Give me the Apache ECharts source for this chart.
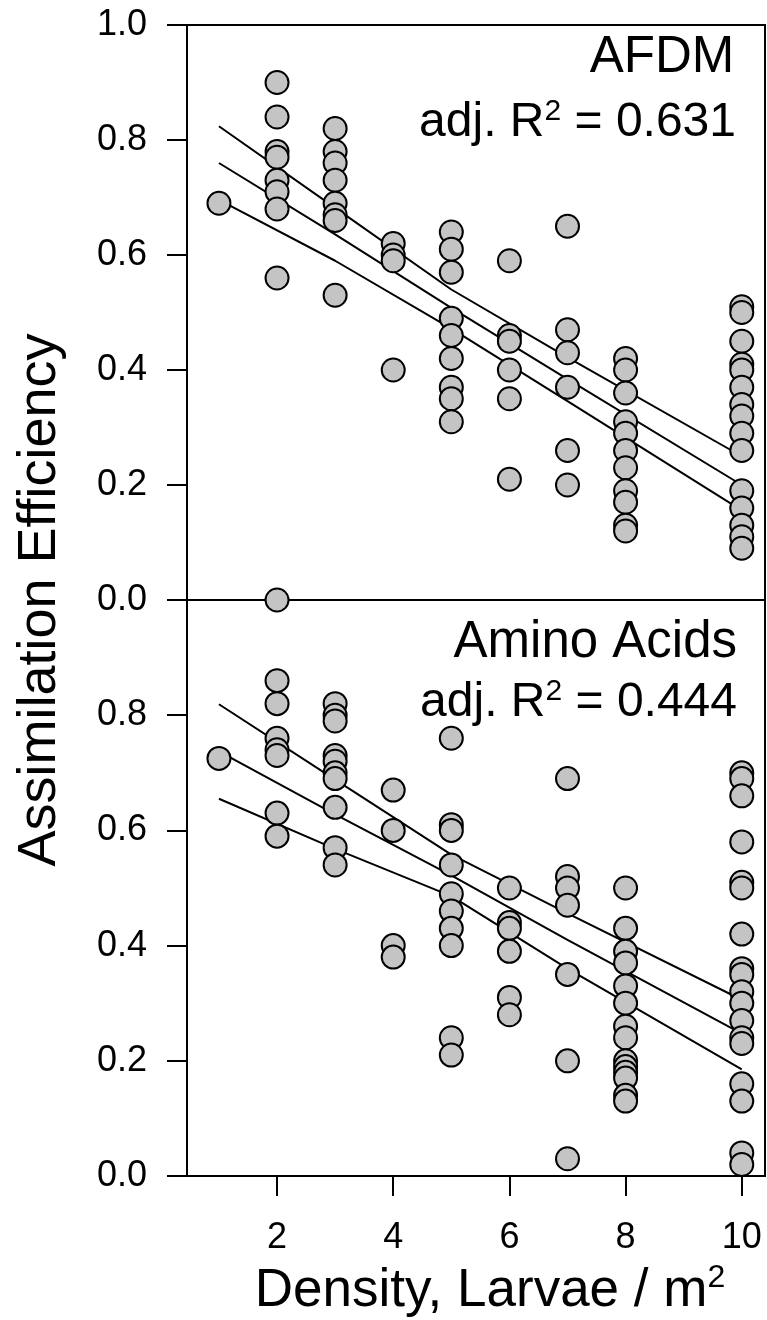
<!DOCTYPE html>
<html>
<head>
<meta charset="utf-8">
<script src="https://cdn.jsdelivr.net/npm/echarts@6/dist/echarts.min.js"></script>
<style>
html,body{margin:0;padding:0;background:#fff;}
#chart{width:767px;height:1320px;}
</style>
</head>
<body>
<div id="chart"></div>
<script>
// ---- data ----
const densities = [1, 2, 3, 4, 5, 6, 7, 8, 10];

const afdmValues = [
  [0.69],
  [0.90, 0.84, 0.78, 0.77, 0.73, 0.71, 0.68, 0.56],
  [0.82, 0.78, 0.76, 0.73, 0.69, 0.67, 0.66, 0.53],
  [0.62, 0.60, 0.59, 0.40],
  [0.64, 0.61, 0.57, 0.49, 0.46, 0.42, 0.37, 0.35, 0.31],
  [0.59, 0.46, 0.45, 0.40, 0.35, 0.21],
  [0.65, 0.47, 0.43, 0.37, 0.26, 0.20],
  [0.42, 0.40, 0.36, 0.31, 0.29, 0.26, 0.23, 0.19, 0.17, 0.13, 0.12],
  [0.51, 0.50, 0.45, 0.41, 0.40, 0.37, 0.34, 0.32, 0.29, 0.26, 0.19, 0.16, 0.13, 0.11, 0.09]
];

const aminoValues = [
  [0.725],
  [1.00, 0.86, 0.82, 0.76, 0.74, 0.73, 0.63, 0.59],
  [0.82, 0.80, 0.79, 0.73, 0.72, 0.70, 0.69, 0.64, 0.57, 0.54],
  [0.67, 0.60, 0.40, 0.38],
  [0.76, 0.61, 0.60, 0.54, 0.49, 0.46, 0.43, 0.40, 0.24, 0.21],
  [0.50, 0.44, 0.43, 0.39, 0.31, 0.28],
  [0.69, 0.52, 0.50, 0.47, 0.35, 0.20, 0.03],
  [0.50, 0.43, 0.39, 0.37, 0.33, 0.30, 0.26, 0.24, 0.20, 0.19, 0.18, 0.17, 0.14, 0.13],
  [0.70, 0.69, 0.66, 0.58, 0.51, 0.50, 0.42, 0.36, 0.35, 0.32, 0.30, 0.27, 0.24, 0.23, 0.16, 0.13, 0.04, 0.02]
];

// regression line and confidence band, read at these densities
const lineX = [1, 3, 5, 7, 10];
const afdmUpper = [0.824, 0.682, 0.540, 0.422, 0.250];
const afdmFit   = [0.760, 0.636, 0.508, 0.384, 0.200];
const afdmLower = [0.696, 0.590, 0.472, 0.346, 0.156];
const aminoUpper = [0.819, 0.688, 0.558, 0.456, 0.306];
const aminoFit   = [0.737, 0.628, 0.522, 0.410, 0.247];
const aminoLower = [0.655, 0.568, 0.486, 0.360, 0.185];

const xTicks = [2, 4, 6, 8, 10];
const afdmLabel = 'AFDM';
const afdmR2 = '0.631';
const aminoLabel = 'Amino Acids';
const aminoR2 = '0.444';

// ---- build ----
function toPoints(vals) {
  const out = [];
  densities.forEach((d, i) => vals[i].forEach(v => out.push([d, v])));
  return out;
}
function toLine(ys) { return lineX.map((x, i) => [x, ys[i]]); }

const FONT = 'Liberation Sans, Arial, Helvetica, sans-serif';
const black = '#000';

function xAxisFor(idx) {
  const bottom = idx === 1;
  return {
    type: 'value', gridIndex: idx, min: 0.45, max: 10.4,
    axisLine: { show: false },
    splitLine: { show: false },
    axisTick: { show: bottom, inside: false, length: 20, customValues: xTicks,
      lineStyle: { color: black, width: 2 } },
    axisLabel: { show: bottom, customValues: xTicks, margin: 44,
      fontSize: 36, fontFamily: FONT, color: black }
  };
}
function yAxisFor(idx) {
  return {
    type: 'value', gridIndex: idx, min: 0, max: 1, interval: 0.2,
    axisLine: { show: true, lineStyle: { color: black, width: 2 } },
    splitLine: { show: false },
    axisTick: { show: true, inside: false, length: 20, lineStyle: { color: black, width: 2 } },
    axisLabel: { margin: 40, fontSize: 36, fontFamily: FONT, color: black,
      formatter: v => (idx === 1 && Math.abs(v - 1) < 1e-9) ? '' : v.toFixed(1) }
  };
}
function scatterFor(idx, vals) {
  return {
    type: 'scatter', xAxisIndex: idx, yAxisIndex: idx, data: toPoints(vals),
    symbol: 'circle', symbolSize: 23, clip: false, z: 5,
    itemStyle: { color: '#c4c4c4', borderColor: black, borderWidth: 2, opacity: 1 },
    emphasis: { disabled: true }
  };
}
function lineFor(idx, ys) {
  return {
    type: 'line', xAxisIndex: idx, yAxisIndex: idx, data: toLine(ys),
    symbol: 'none', z: 2, lineStyle: { color: black, width: 2 },
    emphasis: { disabled: true }
  };
}

const r2Rich = {
  b: { fontSize: 48, fontFamily: FONT, color: black, verticalAlign: 'bottom', lineHeight: 50 },
  s: { fontSize: 30, fontFamily: FONT, color: black, verticalAlign: 'top', lineHeight: 30 }
};

const chart = echarts.init(document.getElementById('chart'));
chart.setOption({
  animation: false,
  backgroundColor: '#fff',
  grid: [
    { left: 187, top: 25, width: 578, height: 575, show: true, borderColor: black, borderWidth: 2 },
    { left: 187, top: 600, width: 578, height: 576, show: true, borderColor: black, borderWidth: 2 }
  ],
  xAxis: [xAxisFor(0), xAxisFor(1)],
  yAxis: [yAxisFor(0), yAxisFor(1)],
  series: [
    lineFor(0, afdmUpper), lineFor(0, afdmFit), lineFor(0, afdmLower),
    lineFor(1, aminoUpper), lineFor(1, aminoFit), lineFor(1, aminoLower),
    scatterFor(0, afdmValues), scatterFor(1, aminoValues)
  ],
  graphic: [
    { type: 'text', x: 662, y: 58, z: 10, style: { text: afdmLabel, fontSize: 51, fontFamily: FONT, fill: black,
        textAlign: 'center', align: 'center', textVerticalAlign: 'middle', verticalAlign: 'middle' } },
    { type: 'text', x: 736, y: 122, z: 10, style: { text: '{b|adj. R}{s|2}{b| = ' + afdmR2 + '}', rich: r2Rich,
        fontSize: 48, fontFamily: FONT, fill: black,
        textAlign: 'right', align: 'right', textVerticalAlign: 'middle', verticalAlign: 'middle' } },
    { type: 'text', x: 737, y: 643, z: 10, style: { text: aminoLabel, fontSize: 51, fontFamily: FONT, fill: black,
        textAlign: 'right', align: 'right', textVerticalAlign: 'middle', verticalAlign: 'middle' } },
    { type: 'text', x: 737, y: 702, z: 10, style: { text: '{b|adj. R}{s|2}{b| = ' + aminoR2 + '}', rich: r2Rich,
        fontSize: 48, fontFamily: FONT, fill: black,
        textAlign: 'right', align: 'right', textVerticalAlign: 'middle', verticalAlign: 'middle' } },
    { type: 'text', x: 490, y: 1290, z: 10, style: { text: '{b|Density, Larvae / m}{s|2}',
        rich: {
          b: { fontSize: 53, fontFamily: FONT, color: black, verticalAlign: 'bottom', lineHeight: 55 },
          s: { fontSize: 32, fontFamily: FONT, color: black, verticalAlign: 'top', lineHeight: 30 }
        },
        fontSize: 53, fontFamily: FONT, fill: black,
        textAlign: 'center', align: 'center', textVerticalAlign: 'middle', verticalAlign: 'middle' } },
    { type: 'text', x: 40, y: 600, rotation: Math.PI / 2, z: 10, style: { text: 'Assimilation Efficiency',
        fontSize: 54, fontFamily: FONT, fill: black,
        textAlign: 'center', align: 'center', textVerticalAlign: 'middle', verticalAlign: 'middle' } }
  ]
});
</script>
</body>
</html>
